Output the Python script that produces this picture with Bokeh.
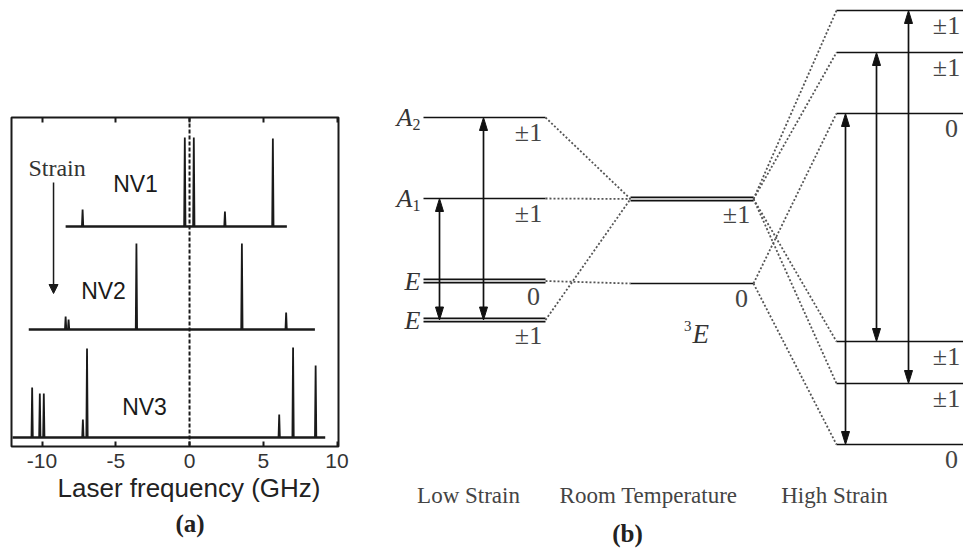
from bokeh.plotting import figure
from bokeh.models import Range1d, LinearAxis, FixedTicker, Span, Title, Arrow, NormalHead
from bokeh.layouts import row
from bokeh.embed import file_html
from bokeh.resources import INLINE
from bokeh.core.properties import value

# ---------------- (a) excitation spectra of three NV centres ----------------
freq_min, freq_max = -12.07, 10.1
tick_vals = [-10, -5, 0, 5, 10]
tick_labels = ["-10", "-5", "0", "5", "10"]
x_title = "Laser frequency (GHz)"

nv_names = ["NV1", "NV2", "NV3"]
nv_offsets = [220, 117, 9]                      # vertical offset of each trace (a.u.)
nv_spans = [(-8.4, 6.6), (-10.9, 8.5), (-12.0, 9.2)]  # scanned range (GHz)

nv1_peaks = [-7.25, -0.32, 0.29, 2.4, 5.65]
nv1_heights = [17, 89, 89, 15, 88]
nv2_peaks = [-8.4, -8.2, -3.6, 3.55, 6.55]
nv2_heights = [13, 10, 86, 86, 17]
nv3_peaks = [-10.67, -10.15, -9.88, -7.23, -6.95, 6.08, 7.02, 8.55]
nv3_heights = [50, 44, 44, 18, 89, 23, 90, 72]

nv_peaks = [nv1_peaks, nv2_peaks, nv3_peaks]
nv_heights = [nv1_heights, nv2_heights, nv3_heights]

SERIF_NAME = "Liberation Serif"
SANS_NAME = "Liberation Sans"
SERIF = value(SERIF_NAME)
SANS = value(SANS_NAME)
INK = "#1a1a1a"


def spikes(peaks, heights, base, half_width=0.045):
    xs, ys = [], []
    for x0, h in zip(peaks, heights):
        xs.append([x0 - half_width, x0, x0 + half_width])
        ys.append([base, base + h, base])
    return xs, ys


pa = figure(width=370, height=550, x_range=Range1d(freq_min, freq_max),
            y_range=Range1d(0, 329), output_backend="svg", toolbar_location=None,
            y_axis_location=None, min_border_left=11, min_border_right=32,
            min_border_top=117, min_border_bottom=104)
pa.frame_align = False
pa.grid.visible = False
pa.outline_line_color = INK
pa.outline_line_width = 2
pa.background_fill_color = "white"
pa.border_fill_color = "white"

top_axis = LinearAxis()
pa.add_layout(top_axis, "above")
for ax in pa.xaxis:
    ax.ticker = FixedTicker(ticks=tick_vals)
    ax.major_label_overrides = {v: s for v, s in zip(tick_vals, tick_labels)}
    ax.axis_line_color = None
    ax.major_tick_in = 5
    ax.major_tick_out = 0
    ax.major_tick_line_width = 2
    ax.major_tick_line_color = INK
    ax.minor_tick_line_color = None
    ax.major_label_text_font = SANS_NAME
    ax.major_label_text_font_size = "21px"
    ax.major_label_text_color = "#333"
    ax.major_label_standoff = 7
top_axis.major_label_text_color = None
top_axis.major_label_text_font_size = "1px"

# axis title, centred on the zero-detuning line
pa.add_layout(Title(text=x_title, align="left", offset=46, text_font=SANS_NAME,
                    text_font_size="26px", text_font_style="normal",
                    text_color="#222", standoff=0), "below")
pa.add_layout(Title(text="(a)", align="left", offset=164, text_font=SERIF_NAME,
                    text_font_size="25px", text_font_style="bold",
                    text_color="#222", standoff=10), "below")

pa.add_layout(Span(location=0, dimension="height", line_color=INK,
                   line_width=2, line_dash="4 2"))

for base, span, pk, ht in zip(nv_offsets, nv_spans, nv_peaks, nv_heights):
    pa.line(list(span), [base, base], line_color=INK, line_width=2.6)
    sx, sy = spikes(pk, ht, base)
    pa.multi_line(sx, sy, line_color=INK, line_width=1.8)

pa.text(x=[-3.66, -5.83, -3.05], y=[263, 156, 40], text=nv_names,
        text_font=SANS, text_font_size="23px", text_color=INK,
        text_align="center", text_baseline="middle")

pa.text(x=[-8.98], y=[279], text=["Strain"], text_font=SERIF,
        text_font_size="24px", text_color="#333",
        text_align="center", text_baseline="middle")
pa.add_layout(Arrow(x_start=-9.22, y_start=264, x_end=-9.22, y_end=153,
                    line_color=INK, line_width=1.5,
                    end=NormalHead(size=9, fill_color=INK, line_color=INK)))

# ---------------- (b) excited-state level diagram vs strain ----------------
low_state = ["A", "A", "E", "E"]
low_sub = ["2", "1", "", ""]
low_energy = [433, 352, 269.5, 230.5]
low_spin = ["±1", "±1", "0", "±1"]
low_doublet = [False, False, True, True]

rt_energy = [351.5, 267]
rt_spin = ["±1", "0"]
rt_doublet = [True, False]

high_energy = [540, 498, 437, 209, 167, 106]
high_spin = ["±1", "±1", "0", "±1", "±1", "0"]
high_doublet = [False] * 6

low_to_rt = [0, 0, 1, 0]          # room-temperature level each low-strain state joins
high_from_rt = [0, 0, 1, 0, 0, 1]  # room-temperature level each high-strain state joins
low_transitions = [(1, 3), (0, 3)]          # (upper, lower) level indices
high_transitions = [(2, 5), (1, 3), (0, 4)]

column_names = ["Low Strain", "Room Temperature", "High Strain"]

# layout of the diagram (screen-sized units)
low_x, rt_x, high_x = (53, 175), (260, 383), (466, 600)
low_arrow_x = [69, 113]
high_arrow_x = [475, 506, 538]
spin_label_x = [158, 366, 576]
column_label_x = [98, 278, 464]
split = 1.6

pb = figure(width=593, height=550, x_range=Range1d(0, 593), y_range=Range1d(0, 550),
            output_backend="svg", toolbar_location=None, x_axis_location=None,
            y_axis_location=None, min_border=0)
pb.frame_align = False
pb.grid.visible = False
pb.outline_line_color = None
pb.background_fill_color = "white"
pb.border_fill_color = "white"


def draw_levels(xr, energies, doublets, spins, label_x):
    xs, ys = [], []
    for e, d in zip(energies, doublets):
        for off in ([split, -split] if d else [0]):
            xs.append(list(xr))
            ys.append([e + off, e + off])
    pb.multi_line(xs, ys, line_color="#111", line_width=1.6)
    pb.text(x=[label_x + (5 if s == "0" else 0) for s in spins],
            y=[e - 15 for e in energies], text=spins, text_font=SERIF,
            text_font_size="26px", text_color="#444",
            text_align="center", text_baseline="middle")


draw_levels(low_x, low_energy, low_doublet, low_spin, spin_label_x[0])
draw_levels(rt_x, rt_energy, rt_doublet, rt_spin, spin_label_x[1])
draw_levels(high_x, high_energy, high_doublet, high_spin, spin_label_x[2])

# dotted correlation lines between the columns
cx, cy = [], []
for e, k in zip(low_energy, low_to_rt):
    cx.append([low_x[1], rt_x[0]])
    cy.append([e, rt_energy[k]])
for e, k in zip(high_energy, high_from_rt):
    cx.append([rt_x[1], high_x[0]])
    cy.append([rt_energy[k], e])
pb.multi_line(cx, cy, line_color="#555", line_width=1.8, line_dash="2 2")


def draw_transitions(energies, transitions, xpos, head_len=13, head_w=4):
    sx, sy, hx, hy = [], [], [], []
    for (u, l), x in zip(transitions, xpos):
        top, bot = energies[u], energies[l]
        sx.append([x, x])
        sy.append([top - head_len, bot + head_len])
        hx.append([x, x - head_w, x + head_w])
        hy.append([top, top - head_len, top - head_len])
        hx.append([x, x - head_w, x + head_w])
        hy.append([bot, bot + head_len, bot + head_len])
    pb.multi_line(sx, sy, line_color="#111", line_width=1.7)
    pb.patches(hx, hy, fill_color="#111", line_color="#111", line_width=1)


draw_transitions(low_energy, low_transitions, low_arrow_x)
draw_transitions(high_energy, high_transitions, high_arrow_x)

# state labels on the low-strain side
pb.text(x=[42, 42, 50, 50], y=low_energy, text=low_state, text_font=SERIF,
        text_font_size="26px", text_font_style="italic", text_color="#333",
        text_align="right", text_baseline="middle")
pb.text(x=[42, 42], y=[e - 7 for e in low_energy[:2]], text=low_sub[:2],
        text_font=SERIF, text_font_size="16px", text_color="#333",
        text_align="left", text_baseline="middle")

# ³E term symbol
pb.text(x=[322], y=[217], text=["E"], text_font=SERIF, text_font_size="27px",
        text_font_style="italic", text_color="#333",
        text_align="left", text_baseline="middle")
pb.text(x=[321], y=[225], text=["3"], text_font=SERIF, text_font_size="15px",
        text_color="#333", text_align="right", text_baseline="middle")

pb.text(x=column_label_x, y=[55] * 3, text=column_names, text_font=SERIF,
        text_font_size="23px", text_color="#444",
        text_align="center", text_baseline="middle")
pb.text(x=[257], y=[17], text=["(b)"], text_font=SERIF, text_font_size="25px",
        text_font_style="bold", text_color="#222",
        text_align="center", text_baseline="middle")

layout = row(pa, pb)
open("out.html", "w").write(file_html(layout, INLINE))
